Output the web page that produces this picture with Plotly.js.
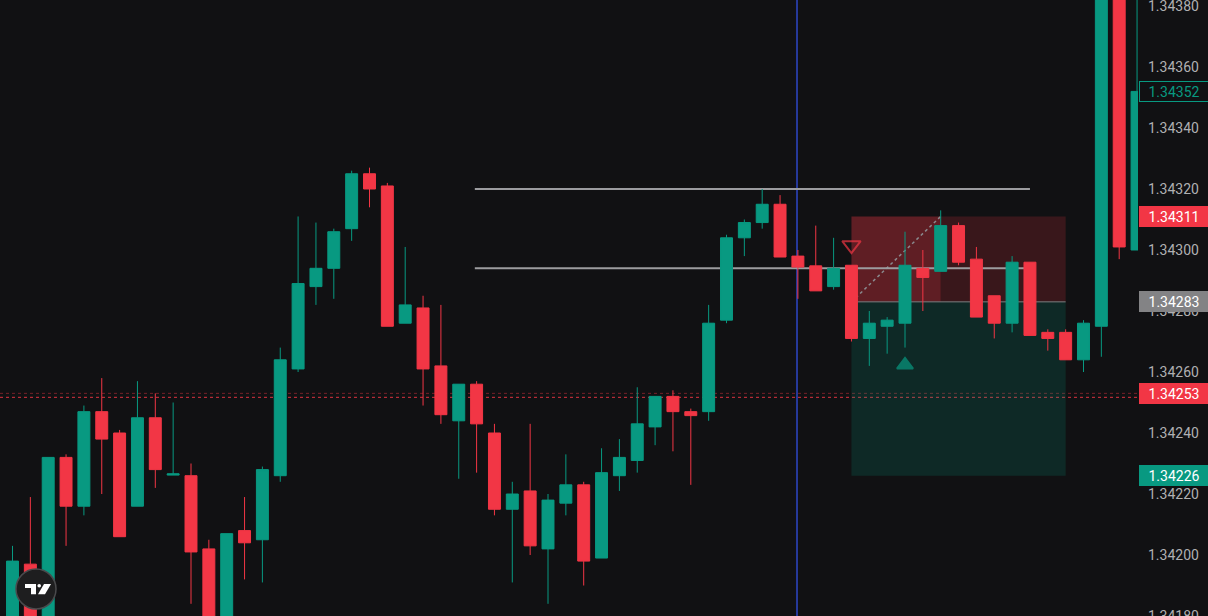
<!DOCTYPE html>
<html>
<head>
<meta charset="utf-8">
<script src="https://cdn.plot.ly/plotly-3.0.1.min.js"></script>
<style>
  html, body { margin: 0; padding: 0; background: #111113; }
  #chart { width: 1208px; height: 616px; }
</style>
</head>
<body>
<div id="chart"></div>
<script>
// ---- Data ----
const barIndex = [0,1,2,3,4,5,6,7,8,9,10,11,12,13,14,15,16,17,18,19,20,21,22,23,24,25,26,27,28,29,30,31,
  32,33,34,35,36,37,38,39,40,41,42,43,44,45,46,47,48,49,50,51,52,53,54,55,56,57,58,59,60,61,62,63];

const opens = [1.34170,1.34197,1.34170,1.34232,1.34216,1.34247,1.34240,1.34216,1.34245,1.342262,
  1.34226,1.34202,1.34170,1.34208,1.34205,1.34226,1.34261,1.34288,1.34294,1.34307,
  1.34325,1.34321,1.34276,1.34281,1.34262,1.34244,1.34256,1.34240,1.34215,1.34221,
  1.34202,1.34217,1.34223,1.34199,1.34226,1.34231,1.34242,1.34252,1.342470,1.34247,
  1.34277,1.34304,1.34309,1.34315,1.34298,1.342948,1.34288,1.34295,1.34271,1.34275,
  1.34276,1.34294,1.34293,1.34308,1.34297,1.34285,1.34276,1.34296,1.34273,1.34273,
  1.34264,1.34275,1.34398,1.34300];
const highs = [1.34203,1.34219,1.34232,1.34233,1.34249,1.34258,1.34241,1.34257,1.34253,1.34250,
  1.34230,1.34205,1.34207,1.34219,1.34229,1.34268,1.34311,1.34309,1.34307,1.34326,
  1.34327,1.34322,1.34301,1.34285,1.34282,1.34256,1.34257,1.34243,1.34224,1.34243,
  1.34220,1.34233,1.34224,1.34235,1.34238,1.34255,1.34252,1.34254,1.34248,1.34282,
  1.34305,1.34310,1.34320,1.34318,1.34300,1.34308,1.34304,1.34295,1.34280,1.34278,
  1.34306,1.34300,1.34313,1.34309,1.34301,1.34285,1.34298,1.34296,1.34274,1.34274,
  1.34277,1.34405,1.34410,1.34400];
const lows = [1.34160,1.34160,1.34160,1.34203,1.34213,1.34220,1.34206,1.34216,1.34222,1.342262,
  1.34184,1.34160,1.34160,1.34192,1.34191,1.34224,1.34260,1.34282,1.34284,1.34303,
  1.34314,1.34275,1.34276,1.34249,1.34243,1.34225,1.34227,1.34213,1.34191,1.34200,
  1.34184,1.34213,1.34190,1.34199,1.34221,1.34227,1.34236,1.34234,1.34223,1.34244,
  1.34276,1.34298,1.34307,1.342977,1.34284,1.342866,1.34287,1.34270,1.34262,1.34266,
  1.34268,1.34280,1.34293,1.34295,1.34278,1.34271,1.34273,1.34272,1.34267,1.34264,
  1.34260,1.34265,1.34297,1.34300];
const closes = [1.34198,1.34168,1.34232,1.34216,1.34247,1.34238,1.34206,1.34245,1.34228,1.342266,
  1.34201,1.34170,1.34207,1.34204,1.34228,1.34264,1.34289,1.34294,1.34306,1.34325,
  1.34320,1.34275,1.34282,1.34261,1.34246,1.34256,1.34243,1.34215,1.34220,1.34203,
  1.34218,1.34223,1.34198,1.34227,1.34232,1.34243,1.34252,1.34247,1.342457,1.34276,
  1.34304,1.34309,1.34315,1.342977,1.342944,1.342866,1.34294,1.34271,1.34276,1.34277,
  1.34295,1.34291,1.34308,1.34296,1.34278,1.34276,1.34296,1.34272,1.34271,1.34264,
  1.34276,1.34400,1.34301,1.34352];

const tickVals = [1.34180,1.34200,1.34220,1.34240,1.34260,1.34280,1.34300,1.34320,1.34340,1.34360,1.34380];
const tickLabels = ['1.34180','1.34200','1.34220','1.34240','1.34260','1.34280','1.34300','1.34320','1.34340','1.34360','1.34380'];

// horizontal drawn levels (price) and their bar span
const levelPrices = [1.34320, 1.34294];
const levelSpan = [25.9, 57.0];
// vertical marker line bar
const vLineBar = 43.95;
// short position tool
const posStartBar = 47, posTouchBar = 52, posEndBar = 59;
const stopPrice = 1.34311, entryPrice = 1.34283, targetPrice = 1.34226;
// dotted price lines
const priceLineA = 1.342530, priceLineB = 1.342517;
// signal markers
const signalBars = [47, 50];
const signalPrices = [1.343016, 1.342623];
// axis label boxes
const labelPrices = [1.34352, 1.34311, 1.34283, 1.34253, 1.34226];
const labelTexts = ['1.34352','1.34311','1.34283','1.34253','1.34226'];

const UP = '#089981', DOWN = '#f23645', BG = '#111113';

const candle = {
  type: 'candlestick',
  x: barIndex, open: opens, high: highs, low: lows, close: closes,
  increasing: { line: { color: UP, width: 1 }, fillcolor: UP },
  decreasing: { line: { color: DOWN, width: 1 }, fillcolor: DOWN },
  whiskerwidth: 0,
  hoverinfo: 'skip',
  showlegend: false
};

const signals = {
  type: 'scatter', mode: 'markers',
  x: signalBars, y: signalPrices,
  marker: {
    symbol: ['triangle-down-open', 'triangle-up'],
    size: [16, 14],
    color: [DOWN, UP],
    line: { color: [DOWN, UP], width: 2 }
  },
  hoverinfo: 'skip', showlegend: false
};

const shapes = [];
// target zone (green)
shapes.push({ type: 'rect', layer: 'below', xref: 'x', yref: 'y',
  x0: posStartBar, x1: posEndBar, y0: targetPrice, y1: entryPrice,
  fillcolor: 'rgba(8,153,129,0.18)', line: { width: 0 } });
// stop zone (red) – touched part and rest
shapes.push({ type: 'rect', layer: 'below', xref: 'x', yref: 'y',
  x0: posStartBar, x1: posTouchBar, y0: entryPrice, y1: stopPrice,
  fillcolor: 'rgba(242,54,69,0.35)', line: { width: 0 } });
shapes.push({ type: 'rect', layer: 'below', xref: 'x', yref: 'y',
  x0: posTouchBar, x1: posEndBar, y0: entryPrice, y1: stopPrice,
  fillcolor: 'rgba(242,54,69,0.18)', line: { width: 0 } });
// entry line
shapes.push({ type: 'line', layer: 'below', xref: 'x', yref: 'y',
  x0: posStartBar, x1: posEndBar, y0: entryPrice, y1: entryPrice,
  line: { color: '#7d7d80', width: 1 } });
// dashed path of the position
shapes.push({ type: 'line', layer: 'below', xref: 'x', yref: 'y',
  x0: posStartBar, x1: posTouchBar, y0: entryPrice, y1: stopPrice,
  line: { color: '#8a8a8e', width: 1.5, dash: 'dot' } });
// drawn horizontal levels
levelPrices.forEach(p => shapes.push({ type: 'line', layer: 'below', xref: 'x', yref: 'y',
  x0: levelSpan[0], x1: levelSpan[1], y0: p, y1: p,
  line: { color: '#9c9c9f', width: 2 } }));
// vertical blue line
shapes.push({ type: 'line', layer: 'below', xref: 'x', yref: 'paper',
  x0: vLineBar, x1: vLineBar, y0: 0, y1: 1,
  line: { color: '#26399a', width: 2 } });
// dotted price lines
shapes.push({ type: 'line', layer: 'below', xref: 'paper', yref: 'y',
  x0: 0, x1: 1, y0: priceLineA, y1: priceLineA,
  line: { color: 'rgba(242,54,69,0.45)', width: 1, dash: 'dot' } });
shapes.push({ type: 'line', layer: 'below', xref: 'paper', yref: 'y',
  x0: 0, x1: 1, y0: priceLineB, y1: priceLineB,
  line: { color: 'rgba(242,54,69,0.9)', width: 1, dash: 'dot' } });
// TradingView badge (pixel positioned)
shapes.push({ type: 'circle', layer: 'above', xref: 'paper', yref: 'paper',
  xsizemode: 'pixel', ysizemode: 'pixel', xanchor: 0, yanchor: 0,
  x0: 16, x1: 56, y0: 7, y1: 47,
  fillcolor: '#1e1e1f', line: { color: '#4a4a4c', width: 1.5 } });
shapes.push({ type: 'path', layer: 'above', xref: 'paper', yref: 'paper',
  xsizemode: 'pixel', ysizemode: 'pixel', xanchor: 0, yanchor: 0,
  path: 'M25,32 L36,32 L36,21.7 L31,21.7 L31,28 L25,28 Z',
  fillcolor: '#ffffff', line: { width: 0 } });
shapes.push({ type: 'circle', layer: 'above', xref: 'paper', yref: 'paper',
  xsizemode: 'pixel', ysizemode: 'pixel', xanchor: 0, yanchor: 0,
  x0: 37.4, x1: 41, y0: 28.4, y1: 32,
  fillcolor: '#ffffff', line: { width: 0 } });
shapes.push({ type: 'path', layer: 'above', xref: 'paper', yref: 'paper',
  xsizemode: 'pixel', ysizemode: 'pixel', xanchor: 0, yanchor: 0,
  path: 'M44,32 L51,32 L45,21.7 L38,21.7 Z',
  fillcolor: '#ffffff', line: { width: 0 } });

const labelStyles = [
  { bg: BG, border: UP, color: UP },
  { bg: DOWN, border: DOWN, color: '#ffffff' },
  { bg: '#838385', border: '#838385', color: '#ffffff' },
  { bg: DOWN, border: DOWN, color: '#ffffff' },
  { bg: UP, border: UP, color: '#ffffff' }
];
const annotations = labelPrices.map((p, i) => ({
  xref: 'paper', yref: 'y', x: 1, y: p, xanchor: 'left', yanchor: 'middle',
  xshift: 1, showarrow: false, text: labelTexts[i],
  font: { family: 'Roboto, sans-serif', size: 14, color: labelStyles[i].color },
  bgcolor: labelStyles[i].bg, bordercolor: labelStyles[i].border, borderwidth: 1,
  borderpad: 2, width: 64, height: 15, align: 'center', valign: 'middle'
}));

const layout = {
  width: 1208, height: 616,
  margin: { l: 0, r: 70, t: 0, b: 0, pad: 0 },
  paper_bgcolor: BG, plot_bgcolor: BG,
  showlegend: false,
  boxgap: 0.33,
  boxgroupgap: 0,
  xaxis: {
    range: [-0.7003, 63.053], visible: false, showgrid: false, zeroline: false,
    rangeslider: { visible: false }, fixedrange: true
  },
  yaxis: {
    side: 'right', range: [1.3418, 1.3438197],
    tickmode: 'array', tickvals: tickVals, ticktext: tickLabels,
    showgrid: false, zeroline: false, showline: false, ticks: '',
    ticklabelstandoff: 9,
    ticklabeloverflow: 'allow',
    tickfont: { family: 'Roboto, sans-serif', size: 14, color: '#b0b0b2' },
    fixedrange: true
  },
  shapes: shapes,
  annotations: annotations,
  hovermode: false
};

Plotly.newPlot('chart', [candle, signals], layout, { displayModeBar: false, staticPlot: true });
</script>
</body>
</html>
